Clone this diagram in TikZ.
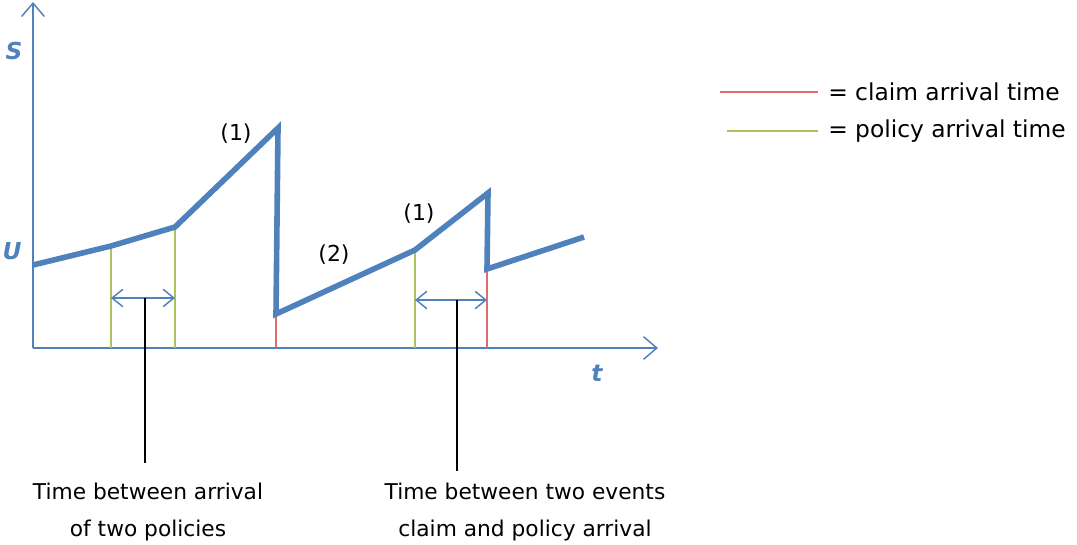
\documentclass[tikz,border=0pt]{standalone}
\usepackage{fontspec}
\setmainfont{DejaVu Sans}
\usetikzlibrary{arrows.meta}
\definecolor{cblue}{RGB}{79,129,189}
\definecolor{cred}{RGB}{222,110,110}
\definecolor{cgreen}{RGB}{170,195,90}
\tikzset{
  axisline/.style={draw=cblue, line width=1.1pt, -{Straight Barb[length=10pt,width=17pt,line width=1.1pt]}},
  curve/.style={draw=cblue, line width=4.2pt, line join=miter, line cap=butt},
  claimline/.style={draw=cred, line width=0.9pt},
  policyline/.style={draw=cgreen, line width=0.9pt},
  spanarrow/.style={draw=cblue, line width=1.1pt, {Straight Barb[length=8pt,width=13pt,line width=1.1pt]}-{Straight Barb[length=8pt,width=13pt,line width=1.1pt]}},
  pointer/.style={draw=black, line width=0.9pt},
  axlabel/.style={text=cblue, font=\bfseries\itshape\fontsize{17.5}{20}\selectfont, inner sep=0pt},
  numlabel/.style={font=\fontsize{16.5}{18}\selectfont, inner sep=0pt},
  textlabel/.style={font=\fontsize{16.3}{28}\selectfont, align=center, inner sep=0pt},
  legendlabel/.style={font=\fontsize{17.5}{20}\selectfont, inner sep=0pt, anchor=west},
}
\begin{document}
\begin{tikzpicture}[x=0.75pt,y=-0.75pt]
\useasboundingbox (0,0) rectangle (1077,544);
% axes
\coordinate (O) at (33,348);
\coordinate (Ytop) at (33,2);
\coordinate (Xend) at (658,348);
\draw[axisline] (O) -- (Ytop);
\draw[axisline] (O) -- (Xend);
\node[axlabel] (S) at (14,51) {S};
\node[axlabel] (U) at (12,251) {U};
\node[axlabel] (T) at (597,373) {t};
% curve points
\coordinate (p0) at (33,265);
\coordinate (p1) at (111,246);
\coordinate (p2) at (175,227);
\coordinate (p3) at (278,128);
\coordinate (p4) at (276,314);
\coordinate (p5) at (415,250);
\coordinate (p6) at (488,193);
\coordinate (p7) at (487,269);
\coordinate (p8) at (584,237);
% base points
\coordinate (b1) at (111,348);
\coordinate (b2) at (175,348);
\coordinate (b3) at (276,348);
\coordinate (b4) at (415,348);
\coordinate (b5) at (487,348);
\draw[policyline] (p1) -- (b1);
\draw[policyline] (p2) -- (b2);
\draw[claimline] (p4) -- (b3);
\draw[policyline] (p5) -- (b4);
\draw[claimline] (p7) -- (b5);
\draw[curve] (p0) -- (p1) -- (p2) -- (p3) -- (p4) -- (p5) -- (p6) -- (p7) -- (p8);
% span arrows
\coordinate (a1l) at (111,298);
\coordinate (a1r) at (175,298);
\coordinate (a2l) at (415,300);
\coordinate (a2r) at (487,300);
\draw[spanarrow] (a1l) -- (a1r);
\draw[spanarrow] (a2l) -- (a2r);
% labels
\node[numlabel] (l1) at (236,134) {(1)};
\node[numlabel] (l2) at (334,255) {(2)};
\node[numlabel] (l3) at (419,214) {(1)};
% pointers
\coordinate (m1) at (145,298);
\coordinate (m2) at (457,300);
\node[textlabel] (t1) at (148,512) {Time between arrival\\of two policies};
\node[textlabel] (t2) at (525,512) {Time between two events\\claim and policy arrival};
\coordinate (e1) at (145,463);
\coordinate (e2) at (457,471);
\draw[pointer] (m1) -- (e1);
\draw[pointer] (m2) -- (e2);
% legend
\coordinate (r1) at (720,92);
\coordinate (r2) at (818,92);
\coordinate (g1) at (727,131);
\coordinate (g2) at (818,131);
\draw[claimline] (r1) -- (r2);
\draw[policyline] (g1) -- (g2);
\node[legendlabel] (lg1) at (828,92) {= claim arrival time};
\node[legendlabel] (lg2) at (828,131) {= policy arrival time};
\end{tikzpicture}
\end{document}
